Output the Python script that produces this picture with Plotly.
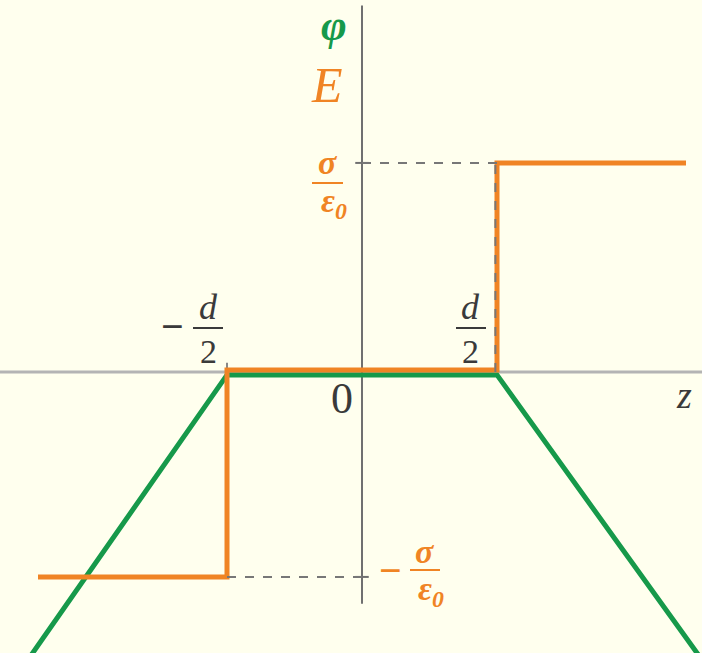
import plotly.graph_objects as go

# Field E(z) and potential phi(z) of a slab of half-width d/2, in units of d/2 and sigma/eps0
E_z = [-2.40, -1.0, -1.0, 1.0, 1.0, 2.40]
E_val = [-1.0, -1.0, 0.0, 0.0, 1.0, 1.0]
phi_z = [-2.5, -1.0, 1.0, 2.5]
phi_val = [-1.40, 0.0, 0.0, -1.36]
half_width = 1.0      # d/2
field_level = 1.0     # sigma/eps0

W, H = 702, 653
X_RANGE = [-362 / 135, 340 / 135]
Y_RANGE = [-(H - 372) / 207, 372 / 207]

ORANGE = "#F08424"
GREEN = "#16994A"
GREY_TXT = "#3a3a3a"
BG = "#FFFFEE"
SERIF = "'Liberation Serif', 'Times New Roman', 'DejaVu Serif', serif"

# small vertical separation so both curves stay visible where they coincide
lift_E, lift_phi = 0.010, -0.014

fig = go.Figure()
fig.add_trace(go.Scatter(x=phi_z, y=[v + lift_phi for v in phi_val], mode="lines",
                         line=dict(color=GREEN, width=5), hoverinfo="skip"))
fig.add_trace(go.Scatter(x=E_z, y=[v + lift_E for v in E_val], mode="lines",
                         line=dict(color=ORANGE, width=5), hoverinfo="skip"))

shapes = [
    # axes
    dict(type="line", xref="paper", yref="y", x0=0, x1=1, y0=0, y1=0,
         line=dict(color="#b4b4b4", width=3), layer="below"),
    dict(type="line", xref="x", yref="y", x0=0, x1=0, y0=-1.12, y1=1.77,
         line=dict(color="#707070", width=2), layer="below"),
    # ticks
    dict(type="line", x0=-half_width, x1=-half_width, y0=0, y1=0.045,
         line=dict(color="#888888", width=2), layer="below"),
    dict(type="line", x0=-0.05, x1=0.05, y0=field_level + lift_E, y1=field_level + lift_E,
         line=dict(color="#707070", width=2), layer="below"),
    dict(type="line", x0=-0.05, x1=0.05, y0=-field_level + lift_E, y1=-field_level + lift_E,
         line=dict(color="#707070", width=2), layer="below"),
    # dashed guides
    dict(type="line", x0=0, x1=half_width, y0=field_level + lift_E, y1=field_level + lift_E,
         line=dict(color="#777777", width=2, dash="dash"), layer="above"),
    dict(type="line", x0=half_width - 0.012, x1=half_width - 0.012, y0=field_level, y1=0,
         line=dict(color="#777777", width=2, dash="dash"), layer="above"),
    dict(type="line", x0=-half_width, x1=0.05, y0=-field_level + lift_E, y1=-field_level + lift_E,
         line=dict(color="#777777", width=2, dash="dash"), layer="above"),
]


def pp(x, y):
    return x / W, 1 - y / H


annotations = []


def label(text, x, y, size, color, italic=True, bold=False):
    px_, py_ = pp(x, y)
    t = text
    if bold:
        t = "<b>" + t + "</b>"
    if italic:
        t = "<i>" + t + "</i>"
    annotations.append(dict(text=t, xref="paper", yref="paper", x=px_, y=py_,
                            xanchor="center", yanchor="middle", showarrow=False,
                            font=dict(family=SERIF, size=size, color=color)))


def bar(x0, x1, y, color, width=2):
    a = pp(x0, y)
    b = pp(x1, y)
    shapes.append(dict(type="line", xref="paper", yref="paper", x0=a[0], x1=b[0],
                       y0=a[1], y1=b[1], line=dict(color=color, width=width)))


# axis titles
label("φ", 334, 26, 44, GREEN, bold=True)
label("E", 327, 85, 50, ORANGE)
label("z", 684, 395, 38, GREY_TXT)
label("0", 342, 398, 44, GREY_TXT, italic=False)

# sigma/eps0 on the axis
label("σ", 328, 162, 34, ORANGE, bold=True)
bar(312, 343, 183, ORANGE)
label("ε<sub>0</sub>", 334, 203, 34, ORANGE, bold=True)

# -sigma/eps0
label("−", 391, 570, 40, ORANGE, italic=False, bold=True)
label("σ", 425, 551, 34, ORANGE, bold=True)
bar(410, 440, 570, ORANGE)
label("ε<sub>0</sub>", 431, 591, 34, ORANGE, bold=True)

# -d/2
label("−", 172, 327, 40, GREY_TXT, italic=False, bold=True)
label("d", 208, 307, 36, GREY_TXT)
bar(193, 223, 328, GREY_TXT)
label("2", 208, 351, 34, GREY_TXT, italic=False)

# d/2
label("d", 470, 307, 36, GREY_TXT)
bar(456, 486, 328, GREY_TXT)
label("2", 470, 351, 34, GREY_TXT, italic=False)

fig.update_layout(
    width=W, height=H, margin=dict(l=0, r=0, t=0, b=0),
    paper_bgcolor=BG, plot_bgcolor=BG, showlegend=False,
    xaxis=dict(range=X_RANGE, visible=False, fixedrange=True),
    yaxis=dict(range=Y_RANGE, visible=False, fixedrange=True),
    shapes=shapes, annotations=annotations,
)

fig.write_html("out.html")
